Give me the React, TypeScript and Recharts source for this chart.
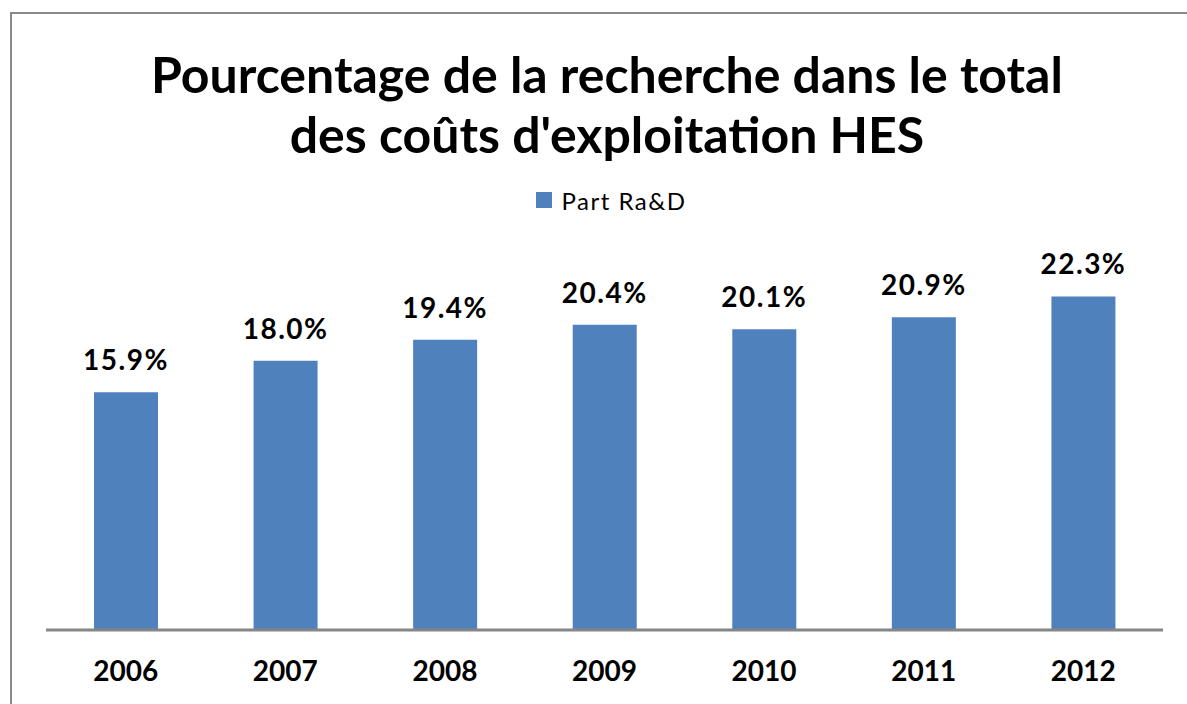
import React from 'react'
import { BarChart, Bar, XAxis, YAxis, Legend, LabelList } from 'recharts'

const years = ['2006', '2007', '2008', '2009', '2010', '2011', '2012']
const partRaD = [15.9, 18.0, 19.4, 20.4, 20.1, 20.9, 22.3]

const data = years.map((year, i) => ({ year, value: partRaD[i] }))

const FONT = 'Lato, "Open Sans", sans-serif'
const BLUE = '#4F81BD'

const YearTick = (props: any) => {
  const { x, y, payload } = props
  return (
    <text x={x} y={y} dy={51} textAnchor="middle" fill="#000" fontFamily={FONT} fontWeight={700} fontSize={28}>
      {payload.value}
    </text>
  )
}

const LegendContent = () => (
  <div style={{ height: 24, display: 'flex', alignItems: 'center', justifyContent: 'center', paddingLeft: 9, fontFamily: FONT, fontSize: 24, letterSpacing: 1.5, color: '#000' }}>
    <span style={{ width: 16, height: 16, background: BLUE, display: 'inline-block', marginRight: 9 }} />
    Part Ra&amp;D
  </div>
)

export default function App() {
  return (
    <div style={{ position: 'absolute', left: 0, top: 0, width: 1187, height: 704, overflow: 'hidden', background: '#fff' }}>
      <div style={{ position: 'absolute', left: 10, top: 12, width: 1190, height: 720, border: '2px solid #898989', background: '#fff' }}>
        <div style={{ position: 'absolute', left: 0, top: 30, width: 1190, textAlign: 'center', fontFamily: FONT, fontWeight: 700, fontSize: 50, lineHeight: '60px', color: '#000' }}>
          Pourcentage de la recherche dans le total
          <br />
          des coûts d'exploitation HES
        </div>
        <BarChart width={1190} height={700} data={data} margin={{ top: 218, right: 39, bottom: 24, left: 34 }} barCategoryGap="20%">
          <XAxis dataKey="year" height={60} tickLine={false} tickSize={0} tickMargin={0} axisLine={{ stroke: '#868686', strokeWidth: 3 }} tick={<YearTick />} />
          <YAxis hide domain={[0, 25]} />
          <Legend verticalAlign="top" content={<LegendContent />} wrapperStyle={{ top: 174, left: 0, width: 1190 }} />
          <Bar dataKey="value" name="Part Ra&D" fill={BLUE} barSize={64} isAnimationActive={false}>
            <LabelList dataKey="value" position="top" offset={22} formatter={(v: any) => `${Number(v).toFixed(1)}%`} style={{ fontFamily: FONT, fontWeight: 700, fontSize: 28, letterSpacing: 1.5, fill: '#000' }} />
          </Bar>
        </BarChart>
      </div>
    </div>
  )
}
